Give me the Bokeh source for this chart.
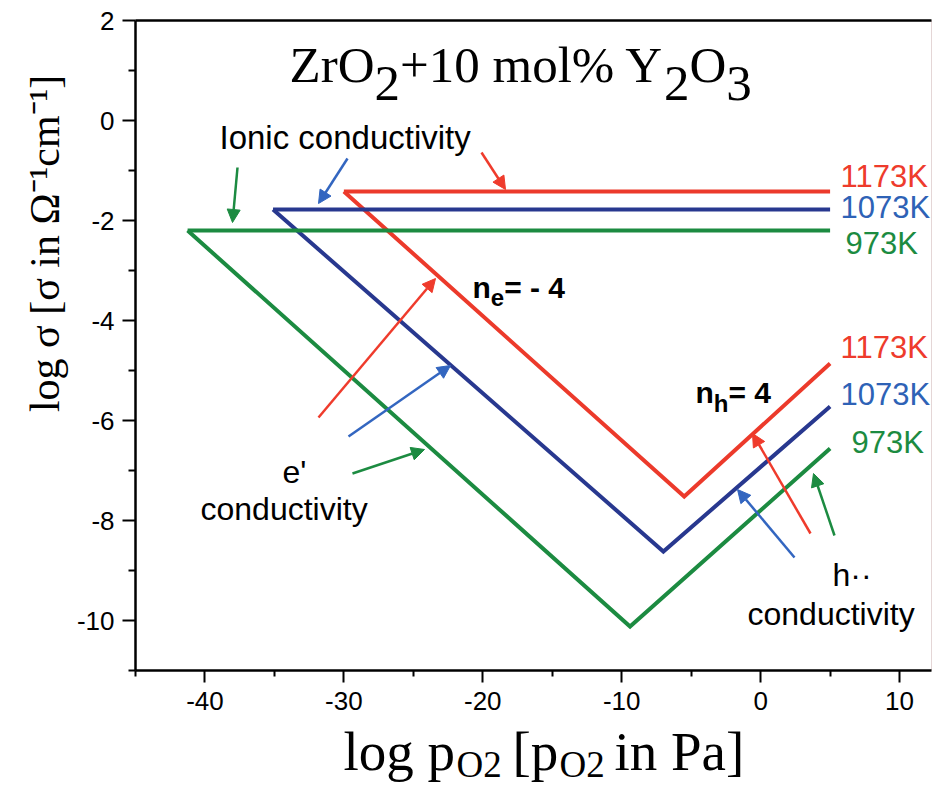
import math
from bokeh.plotting import figure
from bokeh.layouts import row, column
from bokeh.models import (Label, Arrow, NormalHead, LinearAxis, FixedTicker, Range1d,
                          PrintfTickFormatter)
from bokeh.embed import file_html
from bokeh.resources import INLINE

# ---------------- data ----------------
temps = ["1173K", "1073K", "973K"]
ionic_log_sigma = [-1.42, -1.78, -2.20]
ionic_start_log_p = [-30.0, -35.1, -41.25]
ionic_end_log_p = [5.0, 5.0, 5.0]
min_log_p = [-5.5, -7.0, -9.4]
min_log_sigma = [-7.52, -8.62, -10.12]
end_log_p = [5.0, 5.0, 5.0]
end_log_sigma = [-4.86, -5.72, -6.56]

x_ticks = [-40, -30, -20, -10, 0, 10]
x_minor = [-45, -35, -25, -15, -5, 5]
y_ticks = [2, 0, -2, -4, -6, -8, -10]
y_minor = [1, -1, -3, -5, -7, -9, -11]

# ---------------- styles / layout ----------------
line_colors = ["#ec3a2b", "#28388f", "#1c8b41"]
text_colors = ["#ee3b2c", "#2e62b6", "#1c8b41"]
arrow_colors = ["#ef3b2c", "#3366c0", "#1c8b41"]

YF_W = 72                    # strip holding the y title
MAIN_W, MAIN_H = 860, 722    # main plot
XF_H = 65                    # strip holding the x title
TOT_W = YF_W + MAIN_W

X0, X1 = -45.0, 12.3
Y0, Y1 = -11.0, 2.0
FL, FT, FR, FB = 63, 20, 1, 52
FW = MAIN_W - FL - FR
FH = MAIN_H - FT - FB

def dx(ix):
    return X0 + (ix - YF_W - FL) / FW * (X1 - X0)

def dy(iy):
    return Y1 - (iy - FT) / FH * (Y1 - Y0)

p = figure(width=MAIN_W, height=MAIN_H, x_range=Range1d(X0, X1), y_range=Range1d(Y0, Y1),
           output_backend="svg", toolbar_location=None,
           min_border_left=FL, min_border_right=FR, min_border_top=FT, min_border_bottom=FB)
p.grid.visible = False
p.background_fill_color = "white"
p.border_fill_color = "white"
p.outline_line_color = "#e4d6d6"
p.outline_line_width = 1

for ax, ticks, minor in ((p.xaxis[0], x_ticks, x_minor), (p.yaxis[0], y_ticks, y_minor)):
    ax.ticker = FixedTicker(ticks=ticks, minor_ticks=minor)
    ax.formatter = PrintfTickFormatter(format="%d")
    ax.axis_line_width = 2.5
    ax.axis_line_color = "black"
    ax.major_tick_line_width = 2
    ax.minor_tick_line_width = 2
    ax.major_tick_in = 0
    ax.minor_tick_in = 0
    ax.major_label_text_font = "Liberation Sans"
    ax.major_label_text_font_size = "26px"
    ax.major_label_text_color = "black"
p.xaxis[0].major_tick_out = 12
p.xaxis[0].minor_tick_out = 6
p.xaxis[0].major_label_standoff = 9
p.yaxis[0].major_tick_out = 13
p.yaxis[0].minor_tick_out = 7
p.yaxis[0].major_label_standoff = 8

top = LinearAxis(ticker=FixedTicker(ticks=[]), major_label_text_font_size="0px",
                 axis_line_width=2.5, axis_line_color="black",
                 major_tick_out=0, minor_tick_out=0, major_tick_in=0, minor_tick_in=0)
p.add_layout(top, "above")

def strip(w, h):
    f = figure(width=w, height=h, x_range=Range1d(0, w), y_range=Range1d(h, 0),
               output_backend="svg", toolbar_location=None,
               x_axis_location=None, y_axis_location=None, min_border=0)
    f.xgrid.visible = False
    f.ygrid.visible = False
    f.grid.visible = False
    f.outline_line_color = None
    f.background_fill_color = "white"
    f.border_fill_color = "white"
    return f

yfig = strip(YF_W, MAIN_H)
xfig = strip(TOT_W, XF_H)

# ---------------- lines ----------------
for i in range(3):
    p.line([ionic_start_log_p[i], ionic_end_log_p[i]], [ionic_log_sigma[i], ionic_log_sigma[i]],
           line_color=line_colors[i], line_width=4)
    p.line([ionic_start_log_p[i], min_log_p[i], end_log_p[i]],
           [ionic_log_sigma[i], min_log_sigma[i], end_log_sigma[i]],
           line_color=line_colors[i], line_width=4, line_join="miter")

# ---------------- arrows (picture px: tail -> head) ----------------
arrows = [
    (481, 152, 505, 189, 0), (347, 158, 318, 203, 1), (237, 167, 232, 222, 2),
    (318, 417, 435, 278, 0), (348, 436, 450, 365, 1), (352, 473, 424, 449, 2),
    (810, 533, 752, 433, 0), (794, 557, 737, 489, 1), (834, 535, 813, 473, 2),
]
for x0, y0, x1, y1, c in arrows:
    col = arrow_colors[c]
    p.add_layout(Arrow(end=NormalHead(size=13, fill_color=col, line_color=col, line_width=1),
                       x_start=dx(x0), y_start=dy(y0), x_end=dx(x1), y_end=dy(y1),
                       line_color=col, line_width=2.5))

# ---------------- text helpers ----------------
TIMES = {'l': .278, 'o': .5, 'g': .5, ' ': .25, 'σ': .55, '[': .333, ']': .333, 'i': .278,
         'n': .5, 'Ω': .768, '-': .333, '1': .5, 'c': .444, 'm': .778, 'p': .5, 'O': .722,
         '2': .5, 'P': .556, 'a': .444, 'Z': .611, 'r': .333, '+': .564, '0': .5, '%': .833,
         'Y': .722, '3': .5}
ARIALB = {'n': .611, 'e': .556, 'h': .611, '=': .584, ' ': .278, '-': .333, '4': .556}

MAIN = (p, dx, dy)
YSTRIP = (yfig, lambda ix: ix, lambda iy: iy)
XSTRIP = (xfig, lambda ix: ix, lambda iy: iy - MAIN_H)

BASE = 0.37    # renderer draws the alphabetic baseline this many em below the anchor
ALONG = 0.57   # extra shift seen along rotated text

def label(tgt, ix, iy, text, size, color="black", font="Liberation Sans", style="normal",
          rotated=False):
    fig, fx, fy = tgt
    if rotated:
        ax_, ay_, ang = ix - BASE * size, iy + ALONG * size, math.pi / 2
    else:
        ax_, ay_, ang = ix, iy - BASE * size, 0.0
    fig.add_layout(Label(x=fx(ax_), y=fy(ay_), text=text, text_font=font,
                         text_font_size=f"{size}px", text_color=color, text_font_style=style,
                         text_align="left", text_baseline="alphabetic", angle=ang))

def pieces(tgt, ix, iy, parts, font, table, color="black", style="normal"):
    cur = 0.0
    for text, size, shift in parts:
        lead = len(text) - len(text.lstrip(" "))
        cur += lead * table[" "] * size
        label(tgt, ix + cur, iy + shift, text.strip(" "), size, color, font, style)
        cur += sum(table.get(ch, 0.5) for ch in text.lstrip(" ")) * size

SERIF = "Liberation Serif"

# title inside the plot
pieces(MAIN, 289, 83, [("ZrO", 51, 0), ("2", 51, 19), ("+10 mol% Y", 51, 0), ("2", 51, 19),
                       ("O", 51, 0), ("3", 51, 19)], SERIF, TIMES)

# x axis title (pieces at the places)
for text, size, x, base in [("log p", 55, 343, 771), ("O2", 37, 456, 778),
                            ("[p", 55, 512, 771), ("O2", 37, 559, 778),
                            ("in Pa]", 55, 614, 771)]:
    label(XSTRIP, x, base, text, size, font=SERIF)

# y axis title (rotated, one text)
label(YSTRIP, 60, 411, "log σ [σ in Ω⁻¹cm⁻¹]", 42, font=SERIF, rotated=True)

# annotations
label(MAIN, 219, 149, "Ionic conductivity", 33)
label(MAIN, 282, 483, "e'", 32)
label(MAIN, 200, 520, "conductivity", 32)
label(MAIN, 832, 586, "h··", 32)
label(MAIN, 747, 625, "conductivity", 32)
pieces(MAIN, 472, 298, [("n", 30, 0), ("e", 24, 8), ("= - 4", 30, 0)], "Liberation Sans", ARIALB, style="bold")
pieces(MAIN, 695, 403, [("n", 30, 0), ("h", 24, 9), ("= 4", 30, 0)], "Liberation Sans", ARIALB, style="bold")

# temperature labels
ionic_label_pos = [(840, 187), (840, 218), (845, 254)]
hole_label_pos = [(840, 358), (840, 405), (851, 453)]
for i in range(3):
    label(MAIN, *ionic_label_pos[i], temps[i], 31, text_colors[i])
    label(MAIN, *hole_label_pos[i], temps[i], 31, text_colors[i])

layout = column(row(yfig, p, spacing=0), xfig, spacing=0)
open("out.html", "w").write(file_html(layout, INLINE))
